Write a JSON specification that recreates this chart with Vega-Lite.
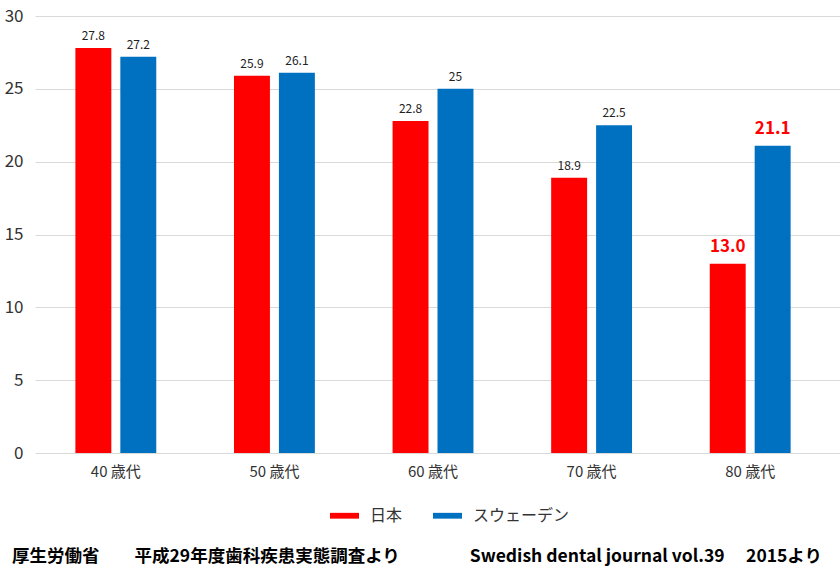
{
  "$schema": "https://vega.github.io/schema/vega-lite/v6.json",
  "autosize": {"type": "none"},
  "padding": {"left": 35, "top": 16, "right": 0, "bottom": 117},
  "width": 805,
  "height": 437,
  "background": "#ffffff",
  "config": {
    "font": "Noto Sans CJK JP",
    "view": {"stroke": null}
  },
  "title": {
    "text": "厚生労働省　　平成29年度歯科疾患実態調査より　　　　Swedish dental journal vol.39　 2015より",
    "orient": "bottom",
    "anchor": "start",
    "frame": "group",
    "dx": -23,
    "offset": 24,
    "fontSize": 17.5,
    "fontWeight": "bold",
    "color": "#000000",
    "font": "Noto Sans CJK JP"
  },
  "data": {
    "values": [
      {"age": "40 歳代", "country": "日本", "value": 27.8, "label": "27.8"},
      {"age": "40 歳代", "country": "スウェーデン", "value": 27.2, "label": "27.2"},
      {"age": "50 歳代", "country": "日本", "value": 25.9, "label": "25.9"},
      {"age": "50 歳代", "country": "スウェーデン", "value": 26.1, "label": "26.1"},
      {"age": "60 歳代", "country": "日本", "value": 22.8, "label": "22.8"},
      {"age": "60 歳代", "country": "スウェーデン", "value": 25, "label": "25"},
      {"age": "70 歳代", "country": "日本", "value": 18.9, "label": "18.9"},
      {"age": "70 歳代", "country": "スウェーデン", "value": 22.5, "label": "22.5"},
      {"age": "80 歳代", "country": "日本", "value": 13.0, "label": "13.0"},
      {"age": "80 歳代", "country": "スウェーデン", "value": 21.1, "label": "21.1"}
    ]
  },
  "encoding": {
    "x": {
      "field": "age",
      "type": "nominal",
      "sort": null,
      "scale": {"paddingInner": 0.49, "paddingOuter": 0.283, "align": 0.45},
      "axis": {
        "title": null,
        "labelAngle": 0,
        "domain": false,
        "ticks": false,
        "labelPadding": 11,
        "labelFontSize": 15,
        "labelColor": "#333333"
      }
    },
    "xOffset": {
      "field": "country",
      "type": "nominal",
      "sort": ["日本", "スウェーデン"],
      "scale": {"paddingInner": 0.2, "paddingOuter": 0}
    },
    "y": {
      "field": "value",
      "type": "quantitative",
      "scale": {"domain": [0, 30], "nice": false},
      "axis": {
        "title": null,
        "values": [0, 5, 10, 15, 20, 25, 30],
        "domain": false,
        "ticks": false,
        "grid": true,
        "gridColor": "#d9d9d9",
        "gridWidth": 1,
        "labelPadding": 12,
        "labelFontSize": 17,
        "labelColor": "#333333"
      }
    }
  },
  "layer": [
    {
      "mark": {"type": "bar"},
      "encoding": {
        "color": {
          "field": "country",
          "type": "nominal",
          "sort": ["日本", "スウェーデン"],
          "scale": {"domain": ["日本", "スウェーデン"], "range": ["#FF0000", "#0070C0"]},
          "legend": {
            "title": null,
            "orient": "none",
            "direction": "horizontal",
            "legendX": 295,
            "legendY": 485,
            "symbolType": "M-1,-0.2L1,-0.2L1,0.2L-1,0.2Z",
            "symbolSize": 841,
            "symbolStrokeWidth": 0,
            "symbolOpacity": 1,
            "labelFontSize": 16,
            "labelColor": "#333333",
            "labelOffset": 11,
            "columnPadding": 30
          }
        }
      }
    },
    {
      "transform": [{"filter": "datum.age !== '80 歳代'"}],
      "mark": {"type": "text", "baseline": "bottom", "dy": -5, "fontSize": 12, "color": "#222222"},
      "encoding": {"text": {"field": "label"}}
    },
    {
      "transform": [{"filter": "datum.age === '80 歳代'"}],
      "mark": {"type": "text", "baseline": "bottom", "dy": -8, "fontSize": 17, "fontWeight": "bold", "color": "#FF0000"},
      "encoding": {"text": {"field": "label"}}
    }
  ]
}
